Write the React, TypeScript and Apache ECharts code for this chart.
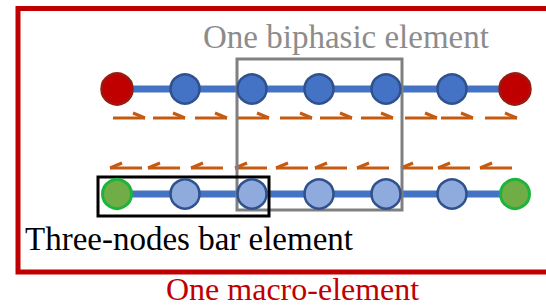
import React, { useEffect, useRef } from "react";
import * as echarts from "echarts";

const W = 546;
const H = 306;

// node positions along each bar (pixel-like data units)
const nodeX = [117, 185, 252, 319, 386, 452, 515];
const topRowY = 89;
const bottomRowY = 194;
// node kinds: "end" = boundary node, "mid" = inner node
const nodeKind = ["end", "mid", "mid", "mid", "mid", "mid", "end"];

// arrow start positions (x) for the two rows
const topArrowX = [113, 153, 195, 237, 280, 320, 361, 405, 441, 485];
const topArrowY = 118;
const bottomArrowX = [110, 148, 191, 235, 276, 315, 357, 401, 438, 480];
const bottomArrowY = 168;
const arrowLen = 32;

// boxes: [x0, y0, x1, y1]
const greyBox = [237, 59, 402, 210];
const blackBox = [98, 177, 269, 216];

// labels
const titleText = "One biphasic element";
const barText = "Three-nodes bar element";
const macroText = "One macro-element";

export default function App() {
  const ref = useRef<HTMLDivElement>(null);
  useEffect(() => {
    if (!ref.current) return;
    const chart = echarts.init(ref.current, null, { renderer: "svg" });

    const nodeData = (y: number, top: boolean) =>
      nodeX.map((x, i) => {
        const end = nodeKind[i] === "end";
        let fill, border, size;
        if (top) {
          fill = end ? "#C00000" : "#4472C4";
          border = end ? "#9A1A10" : "#2F528F";
          size = end ? 31 : 29;
        } else {
          fill = end ? "#70AD47" : "#8FAADC";
          border = end ? "#1DB43C" : "#2F528F";
          size = 29;
        }
        return {
          value: [x, y],
          symbolSize: size,
          itemStyle: {
            color: fill,
            borderColor: border,
            borderWidth: end && !top ? 3 : 2.5,
            opacity: 1,
          },
        };
      });

    const arrowSeries = (xs: number[], y: number, dir: number) => ({
      type: "custom",
      coordinateSystem: "cartesian2d",
      z: 3,
      data: xs.map((x) => [x, y]),
      renderItem: (params: any, api: any) => {
        const x0 = api.value(0);
        const yy = api.value(1);
        const a = api.coord([x0, yy]);
        const b = api.coord([x0 + arrowLen, yy]);
        const style = { stroke: "#C55A11", lineWidth: 3, fill: "none" };
        const tip = dir > 0 ? b : a;
        const barbEnd = dir > 0 ? [b[0] - 12, b[1] - 5] : [a[0] + 12, a[1] - 5];
        return {
          type: "group",
          children: [
            { type: "line", shape: { x1: a[0], y1: a[1], x2: b[0], y2: b[1] }, style },
            { type: "line", shape: { x1: tip[0], y1: tip[1], x2: barbEnd[0], y2: barbEnd[1] }, style },
          ],
        };
      },
    });

    const boxSeries = (box: number[], color: string, z: number) => ({
      type: "custom",
      coordinateSystem: "cartesian2d",
      z,
      data: [box],
      renderItem: (params: any, api: any) => {
        const p0 = api.coord([api.value(0), api.value(1)]);
        const p1 = api.coord([api.value(2), api.value(3)]);
        return {
          type: "rect",
          shape: { x: p0[0], y: p0[1], width: p1[0] - p0[0], height: p1[1] - p0[1] },
          style: { fill: "none", stroke: color, lineWidth: 3 },
        };
      },
    });

    const lineSeries = (y: number) => ({
      type: "line",
      z: 2,
      symbol: "none",
      data: nodeX.map((x) => [x, y]),
      lineStyle: { color: "#4472C4", width: 7, opacity: 1 },
    });

    const fam = "Liberation Serif";

    chart.setOption({
      animation: false,
      grid: { left: 0, right: 0, top: 0, bottom: 0 },
      xAxis: { type: "value", min: 0, max: W, show: false },
      yAxis: { type: "value", min: 0, max: H, inverse: true, show: false },
      series: [
        lineSeries(topRowY),
        lineSeries(bottomRowY),
        arrowSeries(topArrowX, topArrowY, 1),
        arrowSeries(bottomArrowX, bottomArrowY, -1),
        boxSeries(greyBox, "#808080", 4),
        boxSeries(blackBox, "#000000", 4),
        { type: "scatter", z: 5, symbol: "circle", data: nodeData(topRowY, true) },
        { type: "scatter", z: 5, symbol: "circle", data: nodeData(bottomRowY, false) },
      ],
      graphic: [
        {
          type: "rect",
          z: 1,
          shape: { x: 18, y: 8.5, width: 545, height: 263.5 },
          style: { fill: "none", stroke: "#C00000", lineWidth: 5 },
        },
        {
          type: "text",
          z: 10,
          x: 203,
          y: 37,
          style: {
            text: titleText,
            fill: "#8C8C8C",
            fontFamily: fam,
            fontSize: 33,
            verticalAlign: "middle",
          },
        },
        {
          type: "text",
          z: 10,
          x: 25,
          y: 239,
          style: {
            text: barText,
            fill: "#000000",
            fontFamily: fam,
            fontSize: 33,
            verticalAlign: "middle",
          },
        },
        {
          type: "text",
          z: 10,
          x: 166,
          y: 289,
          style: {
            text: macroText,
            fill: "#C00000",
            fontFamily: fam,
            fontSize: 32,
            verticalAlign: "middle",
          },
        },
      ],
    });
    return () => chart.dispose();
  }, []);
  return (
    <div
      ref={ref}
      style={{ position: "fixed", left: 0, top: 0, width: W, height: H, background: "#fff" }}
    />
  );
}
